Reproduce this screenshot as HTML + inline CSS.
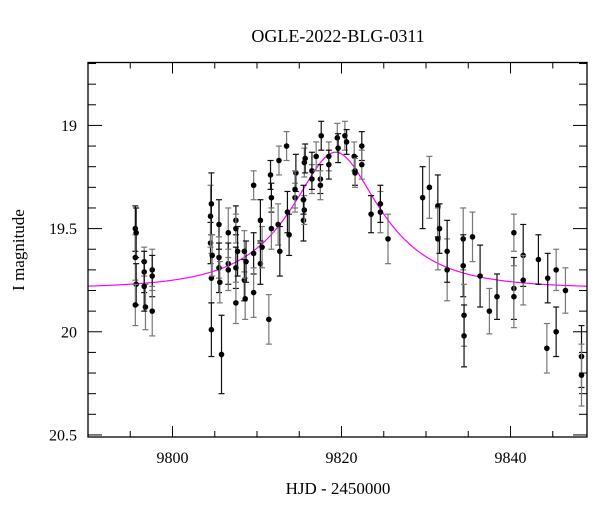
<!DOCTYPE html>
<html><head><meta charset="utf-8"><style>
body{margin:0;background:#fff;}
svg{display:block;font-family:"Liberation Serif",serif;}
</style></head><body>
<svg id="chart" width="600" height="512" viewBox="0 0 600 512">
<text x="338" y="42" font-size="18" text-anchor="middle">OGLE-2022-BLG-0311</text>
<text x="338" y="494" font-size="17" text-anchor="middle">HJD - 2450000</text>
<text transform="translate(24,250) rotate(-90)" font-size="17" text-anchor="middle">I magnitude</text>
<g id="axes"></g>
<g id="model"></g>
<g id="points"></g>
<rect x="88" y="62.5" width="499" height="374.5" fill="none" stroke="#000" stroke-width="1.3"/>
</svg>
<script>
const hjd=[9795.6,9795.6,9795.7,9795.6,9795.7,9796.65,9796.65,9796.8,9796.65,9797.6,9797.6,9797.6,
9804.5,9804.5,9804.6,9804.6,9804.6,9804.7,9805.5,9805.5,9805.5,9805.6,9805.8,9806.6,9806.6,9806.6,
9807.5,9807.5,9807.5,9807.5,9807.7,9808.5,9808.5,9808.6,9808.7,9809.6,9809.6,9809.6,9810.4,9810.6,9810.4,
9811.4,9811.7,9811.7,9811.6,9812.5,9812.7,9812.6,9813.6,9813.5,9813.8,9814.5,9814.6,9814.5,
9815.5,9815.6,9815.5,9815.6,9815.7,9816.5,9816.5,9817.0,9817.5,9817.5,9817.6,9818.5,9818.5,
9819.5,9819.6,9820.4,9820.6,9821.5,9821.6,9821.6,9822.4,9822.4,9823.5,9824.6,9824.6,9825.5,
9829.6,9830.4,9831.4,9831.4,9831.6,9832.5,9832.5,9834.4,9834.4,9834.5,9834.5,9835.5,9836.4,
9837.5,9838.4,9840.4,9840.4,9840.4,9841.5,9841.5,9843.3,9844.3,9844.4,9845.4,9845.4,9846.5,9848.4,9848.4];
const mag=[19.50,19.64,19.77,19.87,19.52,19.66,19.71,19.88,19.78,19.70,19.73,19.90,
19.57,19.44,19.38,19.74,19.99,19.63,19.48,19.64,19.69,19.76,20.11,19.52,19.67,19.70,
19.46,19.50,19.69,19.86,19.61,19.61,19.75,19.84,19.66,19.29,19.62,19.81,19.67,19.59,19.46,
19.94,19.35,19.50,19.24,19.48,19.61,19.17,19.42,19.10,19.53,19.35,19.23,19.31,
19.46,19.41,19.36,19.18,19.16,19.26,19.22,19.15,19.26,19.29,19.05,19.15,19.19,
19.06,19.11,19.05,19.08,19.15,19.22,19.23,19.10,19.19,19.43,19.42,19.38,19.55,
19.35,19.30,19.39,19.55,19.50,19.70,19.61,19.55,19.68,19.92,20.02,19.54,19.73,
19.90,19.83,19.52,19.79,19.83,19.63,19.75,19.65,20.08,19.74,19.70,20.00,19.80,20.12,20.21];
const magErr=[.11,.11,.10,.10,.12,.07,.10,.11,.12,.10,.10,.12,
.10,.15,.15,.12,.13,.10,.12,.10,.12,.10,.19,.12,.10,.10,
.07,.07,.10,.10,.12,.10,.10,.10,.10,.07,.10,.12,.10,.10,.10,
.12,.07,.10,.07,.10,.12,.07,.10,.07,.10,.07,.09,.09,
.10,.07,.07,.07,.07,.07,.09,.07,.07,.07,.07,.07,.07,
.07,.07,.07,.06,.07,.07,.07,.07,.07,.09,.10,.09,.12,
.15,.15,.15,.15,.12,.15,.15,.15,.15,.15,.15,.12,.15,
.11,.11,.09,.15,.15,.15,.12,.12,.12,.12,.10,.12,.11,.15,.15];
const modelParams=[9819.3,0.5,9.5,0.707,19.79]; // t0,u0,tE,fs,baseline
const xTickLabels=["9800","9820","9840"];
const xTickVals=[9800,9820,9840];
const yTickLabels=["19","19.5","20","20.5"];
const yTickVals=[19,19.5,20,20.5];

const X0=88,X1=587,Y0=62.5,Y1=437;
const xMin=9790,xMax=9849.05,yMin=18.695,yMax=20.51;
const sx=t=>X0+(t-xMin)/(xMax-xMin)*(X1-X0);
const sy=m=>Y0+(m-yMin)/(yMax-yMin)*(Y1-Y0);
const NS='http://www.w3.org/2000/svg';
function mk(tag,attrs,parent){const e=document.createElementNS(NS,tag);for(const k in attrs)e.setAttribute(k,attrs[k]);parent.appendChild(e);return e;}
const axes=document.getElementById('axes');
for(let t=9790;t<=9849;t+=5){
  const maj=(t%20===0);const L=maj?11:6;const x=sx(t);
  const a=mk('line',{x1:x,y1:Y1,x2:x,y2:Y1-L,stroke:'#000','stroke-width':1},axes);
  
  
  const b=mk('line',{x1:x,y1:Y0,x2:x,y2:Y0+L,stroke:'#000','stroke-width':1},axes);
  
  
}
xTickVals.forEach((v,i)=>{
  const tx=mk('text',{x:sx(v),y:463,'font-size':16,'text-anchor':'middle'},axes);
  tx.textContent=xTickLabels[i];
  
  
});
for(let i=0;i<=18;i++){
  const m=18.7+i*0.1;const maj=Math.abs(m*2-Math.round(m*2))<1e-6;const L=maj?14:8;const y=sy(m);
  if(y<Y0||y>Y1)continue;
  const a=mk('line',{x1:X0,y1:y,x2:X0+L,y2:y,stroke:'#000','stroke-width':1},axes);
  
  
  const b=mk('line',{x1:X1,y1:y,x2:X1-L,y2:y,stroke:'#000','stroke-width':1},axes);
  
  
}
yTickVals.forEach((v,i)=>{
  const tx=mk('text',{x:77,y:sy(v)+5.5,'font-size':16,'text-anchor':'end'},axes);
  tx.textContent=yTickLabels[i];
  
  
});
const [t0,u0,tE,fs,mb]=modelParams;
let d='';
for(let t=xMin;t<=xMax;t+=0.1){
  const u=Math.sqrt(u0*u0+((t-t0)/tE)**2);
  const A=(u*u+2)/(u*Math.sqrt(u*u+4));
  const m=mb-2.5*Math.log10(fs*(A-1)+1);
  d+=(d?'L':'M')+sx(t).toFixed(2)+','+sy(m).toFixed(2);
}
const path=mk('path',{d:d,fill:'none',stroke:'#ff00ff','stroke-width':1.2},document.getElementById('model'));


const pg=document.getElementById('points');
hjd.forEach((t,i)=>{
  const x=sx(t),y=sy(mag[i]),ya=sy(mag[i]-magErr[i]),yb=sy(mag[i]+magErr[i]);
  const col=(i%2)?'#777':'#111';
  const g=mk('g',{stroke:col,'stroke-width':1.2},pg);
  
  
  mk('line',{x1:x,y1:ya,x2:x,y2:yb},g);
  mk('line',{x1:x-3,y1:ya,x2:x+3,y2:ya},g);
  mk('line',{x1:x-3,y1:yb,x2:x+3,y2:yb},g);
  mk('circle',{cx:x,cy:y,r:2.8,fill:'#000',stroke:'none'},g);
});
</script>
</body></html>
